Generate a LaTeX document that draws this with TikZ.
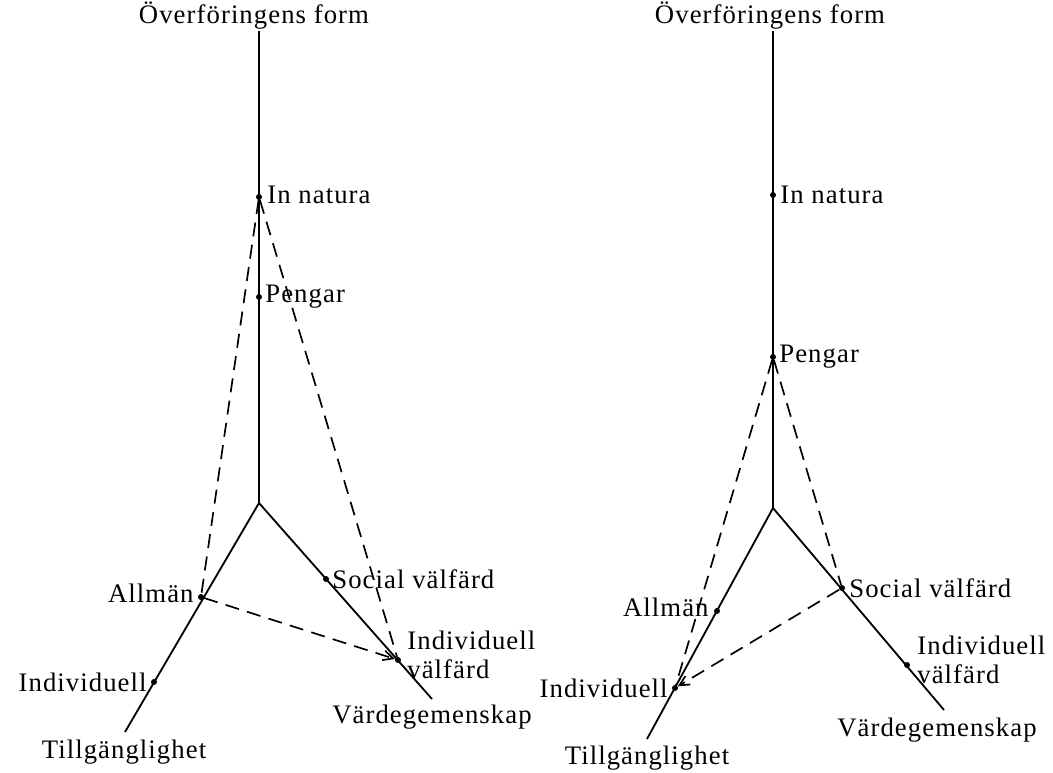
\documentclass[tikz,border=0pt]{standalone}
\usepackage{fontspec}
\setmainfont[LetterSpace=4]{Liberation Serif}
\usetikzlibrary{arrows.meta}
\tikzset{
  axis/.style={line width=1.3pt},
  link/.style={line width=1.2pt, dash pattern=on 10pt off 6pt},
  dot/.style={circle, fill, inner sep=1.5pt},
  lbl/.style={font=\fontsize{19}{21}\selectfont, inner sep=1.5pt}
}
\begin{document}
\begin{tikzpicture}[x=0.025cm, y=-0.025cm, >={Straight Barb[length=7pt, width=7pt]}]
  \useasboundingbox (0,0) rectangle (1053,773);
  % left diagram
  \node[lbl] (ltitle) at (254,16) {Överföringens form};
  \coordinate (ltop) at (259,31);
  \coordinate (lo) at (259,503);
  \coordinate (lleft) at (125,732);
  \coordinate (lright) at (432,699);
  \node[dot] (lnat) at (259,197) {};
  \node[dot] (lpeng) at (259,297) {};
  \node[dot] (lallm) at (201,597) {};
  \node[dot] (lind) at (154,682) {};
  \node[dot] (lsoc) at (326,579) {};
  \node[dot] (lindv) at (398,660) {};
  \draw[axis] (ltop) -- (lo);
  \draw[axis] (lleft) -- (lo) -- (lright);
  \draw[link] (lnat) -- (lallm);
  \draw[link] (lnat) -- (lindv);
  \draw[link, ->] (lallm) -- (lindv);
  \node[lbl, anchor=west] (lnatl) at (265,195) {In natura};
  \node[lbl, anchor=west] (lpengl) at (263,297) {Pengar};
  \node[lbl, anchor=east] (lallml) at (196,593) {Allmän};
  \node[lbl, anchor=east] (lindl) at (149,682) {Individuell};
  \node[lbl, anchor=west] (lsocl) at (330,579) {Social välfärd};
  \node[lbl, anchor=west, align=left] (lindvl) at (405,655) {Individuell\\välfärd};
  \node[lbl] (lvard) at (432,717) {Värdegemenskap};
  \node[lbl] (ltill) at (124,752) {Tillgänglighet};
  % right diagram
  \node[lbl] (rtitle) at (770,16) {Överföringens form};
  \coordinate (rtop) at (773,31);
  \coordinate (ro) at (773,508);
  \coordinate (rleft) at (647,739);
  \coordinate (rright) at (944,710);
  \node[dot] (rnat) at (773,195) {};
  \node[dot] (rpeng) at (773,357) {};
  \node[dot] (rallm) at (717,611) {};
  \node[dot] (rind) at (675,688) {};
  \node[dot] (rsoc) at (842,588) {};
  \node[dot] (rindv) at (907,665) {};
  \draw[axis] (rtop) -- (ro);
  \draw[axis] (rleft) -- (ro) -- (rright);
  \draw[link] (rpeng) -- (rind);
  \draw[link] (rpeng) -- (rsoc);
  \draw[link, ->] (rsoc) -- (rind);
  \node[lbl, anchor=west] (rnatl) at (778,195) {In natura};
  \node[lbl, anchor=west] (rpengl) at (777,357) {Pengar};
  \node[lbl, anchor=east] (rallml) at (711,607) {Allmän};
  \node[lbl, anchor=east] (rindl) at (670,688) {Individuell};
  \node[lbl, anchor=west] (rsocl) at (847,588) {Social välfärd};
  \node[lbl, anchor=west, align=left] (rindvl) at (915,660) {Individuell\\välfärd};
  \node[lbl] (rvard) at (937,730) {Värdegemenskap};
  \node[lbl] (rtill) at (647,758) {Tillgänglighet};
\end{tikzpicture}
\end{document}
